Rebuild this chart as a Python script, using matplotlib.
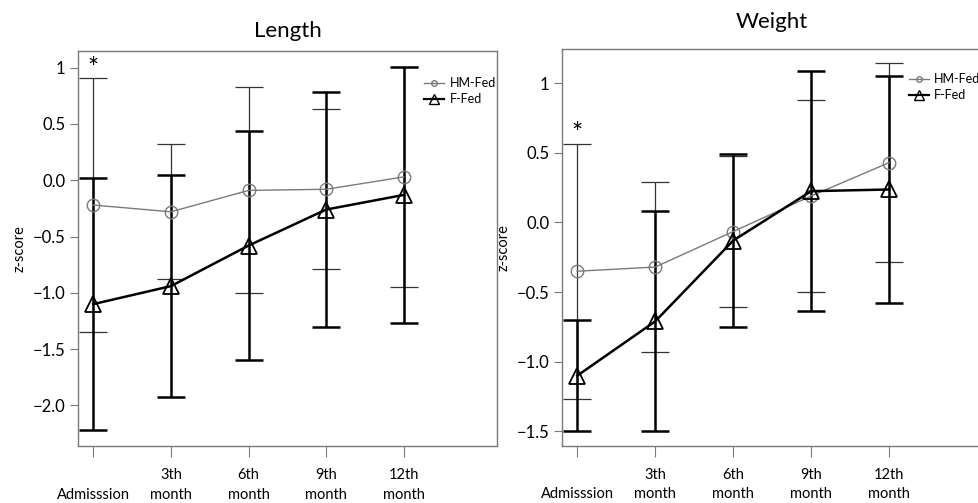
import matplotlib.pyplot as plt
from matplotlib.lines import Line2D

plt.rcParams['font.family'] = ['Lato', 'DejaVu Sans']

labels = ["\nAdmisssion", "3th\nmonth", "6th\nmonth", "9th\nmonth", "12th\nmonth"]
x = [0, 1, 2, 3, 4]

# Length
len_hm = [-0.22, -0.28, -0.09, -0.08, 0.03]
len_hm_err = [1.13, 0.60, 0.915, 0.71, 0.98]
len_f = [-1.10, -0.94, -0.58, -0.26, -0.13]
len_f_err = [1.12, 0.985, 1.015, 1.04, 1.14]

# Weight
wt_hm = [-0.35, -0.32, -0.065, 0.19, 0.43]
wt_hm_err = [0.915, 0.61, 0.545, 0.69, 0.715]
wt_f = [-1.10, -0.71, -0.13, 0.225, 0.237]
wt_f_err = [0.40, 0.79, 0.62, 0.86, 0.817]

fig = plt.figure(figsize=(9.79, 5.03), dpi=100)
ax1 = fig.add_axes([0.0794, 0.1133, 0.4283, 0.7853])
ax2 = fig.add_axes([0.5737, 0.1139, 0.4300, 0.7887])

panels = [
    (ax1, "Length", len_hm, len_hm_err, len_f, len_f_err, (-2.36, 1.148),
     [1, 0.5, 0.0, -0.5, -1.0, -1.5, -2.0], 0.98, 10, (0.815, 0.946)),
    (ax2, "Weight", wt_hm, wt_hm_err, wt_f, wt_f_err, (-1.603, 1.246),
     [1, 0.5, 0.0, -0.5, -1.0, -1.5], 0.63, 15, (0.813, 0.951)),
]

gray = "#7a7a7a"
for ax, title, hm, hm_err, f, f_err, ylim, yt, star_y, tpad, leg_pos in panels:
    ax.errorbar(x, hm, yerr=hm_err, fmt="none", ecolor="#333333", elinewidth=0.9,
                capsize=10, capthick=0.9)
    ax.errorbar(x, f, yerr=f_err, fmt="none", ecolor="black", elinewidth=1.8,
                capsize=10, capthick=1.8)
    ax.plot(x, hm, color=gray, lw=1.0, marker="o", ms=9, mfc="none", mec=gray, mew=1.0)
    ax.plot(x, f, color="black", lw=1.8, marker="^", ms=11, mfc="none", mec="black", mew=1.3)
    ax.text(0, star_y, "*", ha="center", va="center", fontsize=19)
    ax.set_xlim(-0.2, 5.2)
    ax.set_ylim(ylim)
    ax.set_yticks(yt)
    ax.set_yticklabels(["1" if v == 1 else f"{v:.1f}".replace("-", "\u2212") for v in yt])
    ax.set_xticks(x)
    ax.set_xticklabels(labels, fontsize=10.5, linespacing=1.5)
    ax.tick_params(axis="y", labelsize=12, length=6, color=gray, pad=3)
    ax.tick_params(axis="x", length=8, color=gray, pad=8)
    for s in ax.spines.values():
        s.set_color(gray)
        s.set_linewidth(1.0)
    ax.set_ylabel("z-score", fontsize=10.5, labelpad=4)
    ax.set_title(title, fontsize=16, pad=tpad)
    handles = [
        Line2D([], [], color=gray, lw=1.0, marker="o", ms=4, mfc="none", mec=gray),
        Line2D([], [], color="black", lw=1.6, marker="^", ms=7, mfc="none", mec="black"),
    ]
    ax.legend(handles, ["HM-Fed", "F-Fed"], loc="upper left", bbox_to_anchor=leg_pos,
              frameon=False, fontsize=9, handlelength=1.6, handletextpad=0.4,
              labelspacing=0.3, borderaxespad=0)

fig.savefig("out.png", dpi=100)
